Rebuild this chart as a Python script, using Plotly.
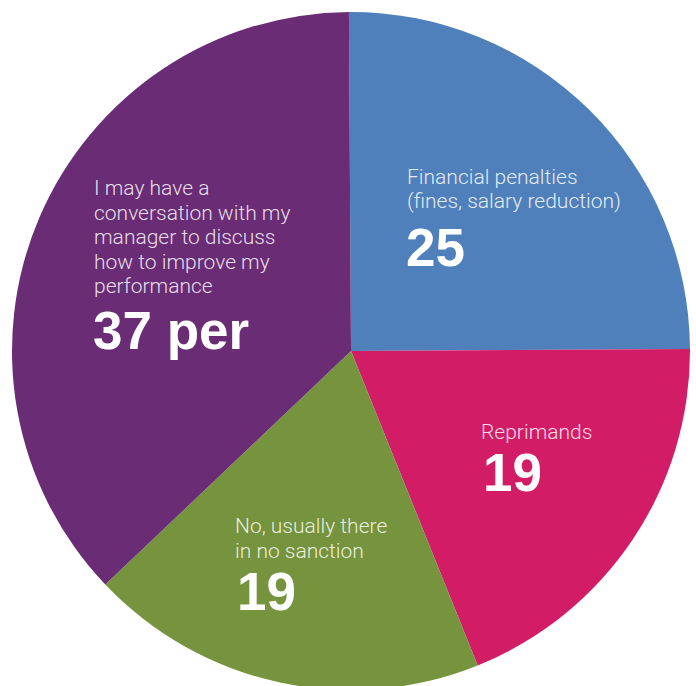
import plotly.graph_objects as go

# Survey answers, clockwise from 12 o'clock
categories = [
    "Financial penalties (fines, salary reduction)",
    "Reprimands",
    "No, usually there in no sanction",
    "I may have a conversation with my manager to discuss how to improve my performance",
]
values = [25, 19, 19, 37]
value_suffix = ["", "", "", " per"]
colors = ["#4F80BB", "#D21C66", "#76933E", "#692C75"]

# Wrapped label lines drawn inside each slice
label_lines = [
    ["Financial penalties", "(fines, salary reduction)"],
    ["Reprimands"],
    ["No, usually there", "in no sanction"],
    ["I may have a", "conversation with my", "manager to discuss", "how to improve my", "performance"],
]
# Label block anchors (pixel x of left edge, pixel y of first line centre)
label_anchor = [(405, 177), (479, 432), (233, 526), (92, 188)]
number_anchor = [(404, 247), (481, 472), (235, 591), (91, 330)]

W, H = 696, 691
ML, MR, MT, MB = 12, 6, 12, 1
PW, PH = W - ML - MR, H - MT - MB


def px(x):
    return (x - ML) / PW


def py(y):
    return 1 - (y - MT) / PH


fig = go.Figure(
    go.Pie(
        labels=categories,
        values=values,
        sort=False,
        direction="clockwise",
        rotation=-0.35,
        marker=dict(colors=colors, line=dict(width=0)),
        textinfo="none",
        hoverinfo="label+value",
        showlegend=False,
    )
)

annotations = []
line_step = 24.5
for lines, (ax, ay), (nx, ny), v, suf in zip(
    label_lines, label_anchor, number_anchor, values, value_suffix
):
    for i, t in enumerate(lines):
        annotations.append(dict(
            text=t, xref="paper", yref="paper",
            x=px(ax), y=py(ay + i * line_step),
            xanchor="left", yanchor="middle", showarrow=False,
            font=dict(family="Roboto", weight=300, size=21,
                      color="rgba(255,255,255,0.86)"),
        ))
    annotations.append(dict(
        text=f"{v}{suf}", xref="paper", yref="paper",
        x=px(nx), y=py(ny),
        xanchor="left", yanchor="middle", showarrow=False,
        font=dict(family="Liberation Sans", weight=700, size=53, color="white"),
    ))

fig.update_layout(
    width=W, height=H,
    margin=dict(l=ML, r=MR, t=MT, b=MB),
    paper_bgcolor="white",
    annotations=annotations,
)

fig.write_html(
    "out.html",
    post_script="document.body.style.margin='0';document.body.style.overflow='hidden';",
)
